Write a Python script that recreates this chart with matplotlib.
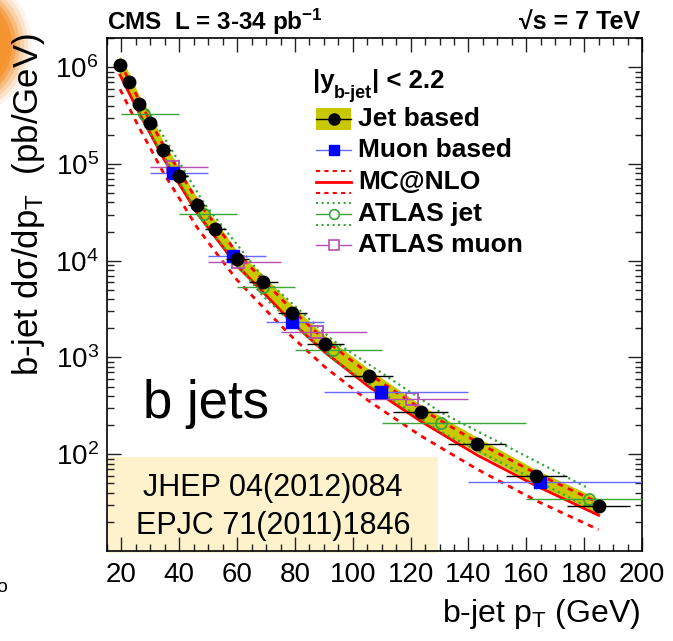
import matplotlib.pyplot as plt
import numpy as np
from matplotlib.patches import Rectangle, Circle
from matplotlib.ticker import MultipleLocator, FixedLocator, NullFormatter

plt.rcParams['font.family'] = ['Liberation Sans', 'DejaVu Sans']
plt.rcParams['mathtext.fontset'] = 'custom'
plt.rcParams['mathtext.rm'] = 'Liberation Sans'
plt.rcParams['mathtext.it'] = 'Liberation Sans'
plt.rcParams['mathtext.bf'] = 'Liberation Sans:bold'

# CMS jet based (points + systematics band)
jet_edges = [18, 21, 24, 28, 32, 37, 43, 49, 56, 64, 74, 84, 97, 114, 133, 153, 174, 196]
jet_pt = [19.5, 22.5, 26, 30, 34.5, 40, 46, 52.5, 60, 69, 79, 90.5, 105.5, 123.5, 143, 163.5, 185]
jet_xs = [1.05e6, 7.05e5, 4.2e5, 2.65e5, 1.39e5, 7.46e4, 3.75e4, 2.15e4, 1.04e4, 5.96e3,
          2.88e3, 1.39e3, 6.4e2, 2.74e2, 1.27e2, 59, 29.5]
jet_sys = [0.25, 0.25, 0.24, 0.24, 0.23, 0.22, 0.22, 0.21, 0.21, 0.20, 0.20, 0.20,
           0.19, 0.18, 0.18, 0.17, 0.17]

# CMS muon based
mu_pt = [37.9, 58.7, 79.1, 109.6, 164.8]
mu_xs = [8.1e4, 1.12e4, 2.35e3, 4.4e2, 51.7]
mu_lo = [30, 50, 70, 90, 140]
mu_hi = [50, 70, 90, 140, 200]

# MC@NLO central and scale variations
mc_pt = jet_pt
mc_c = [8.3e5, 5.5e5, 3.4e5, 2.04e5, 1.15e5, 6.2e4, 3.16e4, 1.74e4, 8.9e3, 4.7e3,
        2.3e3, 1.12e3, 5.0e2, 2.19e2, 98, 47, 23.4]
mc_up = [1.12e6, 7.4e5, 4.6e5, 2.75e5, 1.55e5, 8.4e4, 4.25e4, 2.35e4, 1.2e4, 6.3e3,
         3.1e3, 1.5e3, 6.8e2, 2.95e2, 1.33e2, 63, 31.5]
mc_dn = [5.9e5, 3.9e5, 2.4e5, 1.45e5, 8.1e4, 4.4e4, 2.24e4, 1.23e4, 6.3e3, 3.3e3,
         1.63e3, 7.9e2, 3.55e2, 1.55e2, 70, 33, 16.6]

# ATLAS jet
aj_pt = [27.9, 48.6, 68.9, 93.1, 130.5, 181.8]
aj_xs = [3.24e5, 3.07e4, 5.37e3, 1.19e3, 2.11e2, 34.8]
aj_lo = [20, 40, 60, 80, 110, 160]
aj_hi = [40, 60, 80, 110, 160, 210]
aj_up = [4.1e5, 3.9e4, 6.8e3, 1.5e3, 2.7e2, 44]
aj_dn = [2.6e5, 2.45e4, 4.3e3, 9.5e2, 1.7e2, 28]

# ATLAS muon
am_pt = [37.9, 60.4, 87.6, 120.4]
am_xs = [9.3e4, 9.7e3, 1.84e3, 3.75e2]
am_lo = [30, 50, 75, 105]
am_hi = [50, 75, 105, 140]

band_col = '#c8c800'
blue = '#0000ff'
blue_l = '#6a6aff'
green = '#3aa63a'
violet = '#b450b4'

W, H = 673, 641
fig = plt.figure(figsize=(W / 100, H / 100), dpi=100)

# background layer (pixel coordinates)
bg = fig.add_axes([0, 0, 1, 1], zorder=-1)
bg.set_xlim(0, W)
bg.set_ylim(H, 0)
bg.axis('off')
for r, a in [(72, 0.1), (68, 0.15), (64, 0.22), (60, 0.35), (56, 0.55), (52, 0.8), (48, 1.0)]:
    bg.add_patch(Circle((-40, 45), r, color='#f5932f', alpha=a, lw=0))
bg.add_patch(Rectangle((107, 457), 331, 96, color='#fef2cc', lw=0))
bg.text(273, 488, 'JHEP 04(2012)084', fontsize=22, ha='center', va='center')
bg.text(273, 526, 'EPJC 71(2011)1846', fontsize=22, ha='center', va='center')

ax = fig.add_axes([107 / W, 1 - 551 / H, 535 / W, 513 / H])
ax.set_facecolor('none')
ax.set_yscale('log')

jet_pt_a = np.array(jet_pt)
jet_xs_a = np.array(jet_xs)
jet_sys_a = np.array(jet_sys)
ax.fill_between(jet_pt_a, jet_xs_a * (1 - jet_sys_a), jet_xs_a * (1 + jet_sys_a),
                color=band_col, lw=0, zorder=1)

ax.plot(mc_pt, mc_c, '-', color='red', lw=2, zorder=2)
ax.plot(mc_pt, mc_up, '--', color='red', lw=2, dashes=(2, 2), zorder=2)
ax.plot(mc_pt, mc_dn, '--', color='red', lw=2, dashes=(2, 2), zorder=2)
ax.plot(aj_pt, aj_up, ':', color=green, lw=1.6, zorder=2)
ax.plot(aj_pt, aj_dn, ':', color=green, lw=1.6, zorder=2)

ax.errorbar(aj_pt, aj_xs,
            xerr=[np.array(aj_pt) - aj_lo, np.array(aj_hi) - aj_pt],
            fmt='o', ms=8, mfc='none', mec=green, mew=1.3, ecolor=green, elinewidth=1, zorder=3)
ax.errorbar(am_pt, am_xs,
            xerr=[np.array(am_pt) - am_lo, np.array(am_hi) - am_pt],
            fmt='s', ms=8, mfc='none', mec=violet, mew=1.3, ecolor=violet, elinewidth=1, zorder=3)
ax.errorbar(mu_pt, mu_xs,
            xerr=[np.array(mu_pt) - mu_lo, np.array(mu_hi) - mu_pt],
            fmt='s', ms=8, color=blue, ecolor=blue_l, elinewidth=1, zorder=4)
ax.errorbar(jet_pt, jet_xs,
            xerr=[jet_pt_a - jet_edges[:-1], np.array(jet_edges[1:]) - jet_pt_a],
            fmt='o', ms=9, color='black', ecolor='black', elinewidth=1, zorder=5)

ax.set_xlim(15, 200)
ax.set_ylim(10, 2e6)
ax.set_xticks(range(20, 201, 20))
ax.xaxis.set_minor_locator(MultipleLocator(5))
ax.yaxis.set_major_locator(FixedLocator([1e2, 1e3, 1e4, 1e5, 1e6]))
ax.set_yticklabels([r'$10^{2}$', r'$10^{3}$', r'$10^{4}$', r'$10^{5}$', r'$10^{6}$'])
minors = [m * 10 ** e for e in range(1, 7) for m in range(2, 10)]
ax.yaxis.set_minor_locator(FixedLocator(minors))
ax.yaxis.set_minor_formatter(NullFormatter())
ax.tick_params(which='both', direction='in', top=True, right=True, width=1, color='#222222')
ax.tick_params(which='major', length=10, labelsize=20)
ax.tick_params(axis='x', which='major', pad=8)
ax.tick_params(axis='y', which='major', pad=6)
ax.tick_params(which='minor', length=5)
for s in ax.spines.values():
    s.set_linewidth(1.2)

# overlay layer: legend and texts (pixel coordinates)
ov = fig.add_axes([0, 0, 1, 1], zorder=5)
ov.set_xlim(0, W)
ov.set_ylim(H, 0)
ov.axis('off')
ov.patch.set_alpha(0)

ov.text(107, 30, r'CMS  L = 3-34 pb$^{\mathbf{-1}}$', fontsize=17.5, fontweight='bold', va='baseline')
ov.text(640, 30, '√s = 7 TeV', fontsize=18, fontweight='bold', va='baseline', ha='right')
ov.text(143, 418, 'b jets', fontsize=38, va='baseline')
ov.text(640, 622, r'b-jet p$_{\mathrm{T}}$ (GeV)', fontsize=23, ha='right', va='baseline')
ov.text(29, 33, r'b-jet d$\sigma$/dp$_{\mathrm{T}}$  (pb/GeV)', fontsize=25, rotation=90,
        ha='center', va='top')
ov.text(-4, 588, 'o', fontsize=14, va='center')

# legend
ov.text(313, 88, '|y', fontsize=18.5, fontweight='bold', va='baseline')
ov.text(334, 98, 'b-jet', fontsize=13, fontweight='bold', va='baseline')
ov.text(372, 88, '| < 2.2', fontsize=18.5, fontweight='bold', va='baseline')
x0, x1, xc = 316, 351, 333.5
ov.add_patch(Rectangle((x0, 108), x1 - x0, 22, color=band_col, lw=0))
ov.plot([x0, x1], [119, 119], color='black', lw=1)
ov.plot([xc], [119], 'o', color='black', ms=8)
ov.plot([x0, x1], [150, 150], color=blue_l, lw=1)
ov.plot([xc], [150], 's', color=blue, ms=7)
ov.plot([x0, x1], [171, 171], color='red', lw=1.5, dashes=(2, 2))
ov.plot([x0, x1], [182, 182], color='red', lw=2)
ov.plot([x0, x1], [193, 193], color='red', lw=1.5, dashes=(2, 2))
ov.plot([x0, x1], [203, 203], ':', color=green, lw=1.5)
ov.plot([x0, x1], [214, 214], color=green, lw=1)
ov.plot([xc], [214], 'o', mfc='white', mec=green, ms=7, mew=1.2)
ov.plot([x0, x1], [225, 225], ':', color=green, lw=1.5)
ov.plot([x0, x1], [245, 245], color=violet, lw=1)
ov.plot([xc], [245], 's', mfc='white', mec=violet, ms=7, mew=1.2)
for y, t in [(119, 'Jet based'), (150, 'Muon based'), (182, 'MC@NLO'),
             (214, 'ATLAS jet'), (245, 'ATLAS muon')]:
    ov.text(358, y, t, fontsize=19, fontweight='bold', va='center')

fig.savefig('out.png', dpi=100)
